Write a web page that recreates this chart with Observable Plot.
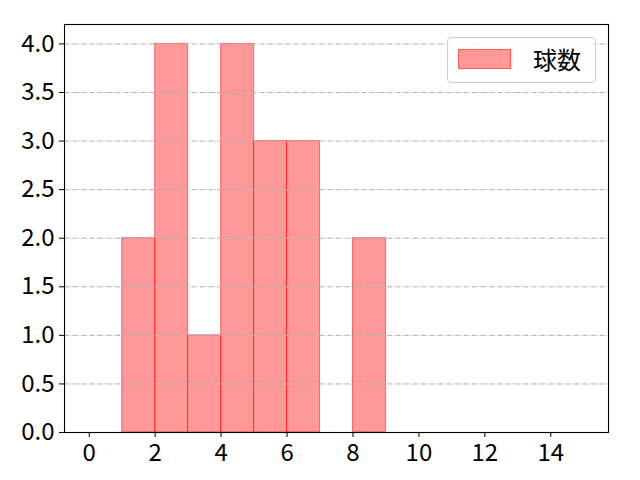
<!DOCTYPE html>
<html>
<head>
<meta charset="utf-8">
<script src="https://cdn.jsdelivr.net/npm/d3@7"></script>
<script src="https://cdn.jsdelivr.net/npm/@observablehq/plot@0.6"></script>
<style>
  html, body { margin: 0; padding: 0; background: #fff; }
  #wrap { position: relative; width: 640px; height: 480px; font-family: "Noto Sans CJK JP", sans-serif; }
  #legend { position: absolute; left: 447px; top: 37px; width: 149px; height: 46px; border: 1px solid #d0d0d0; border-radius: 4px; background: rgba(255,255,255,0.8); box-sizing: border-box; }
  #legend .sw { position: absolute; left: 10px; top: 11px; width: 53px; height: 20px; background: rgba(255,0,0,0.4); border: 1px solid rgba(255,0,0,0.4); box-sizing: border-box; }
  #legend .lb { position: absolute; left: 85px; top: 4px; font-size: 24px; line-height: 34px; color: #000; }
</style>
</head>
<body>
<div id="wrap"></div>
<script>
const binStart = [0, 1, 2, 3, 4, 5, 6, 7, 8, 9, 10, 11, 12, 13, 14];
const counts   = [0, 2, 4, 1, 4, 3, 3, 0, 2, 0, 0, 0, 0, 0, 0];
const xTicks = [0, 2, 4, 6, 8, 10, 12, 14];
const yTicks = [0, 0.5, 1, 1.5, 2, 2.5, 3, 3.5, 4];
const seriesName = "球数";

const bins = binStart.map((b, i) => ({x1: b, x2: b + 1, y: counts[i]})).filter(d => d.y > 0);

const chart = Plot.plot({
  width: 640,
  height: 480,
  marginLeft: 64,
  marginRight: 32,
  marginTop: 24,
  marginBottom: 48,
  style: {fontFamily: "'Noto Sans CJK JP', sans-serif", fontSize: "24px", color: "#000", background: "#fff"},
  x: {domain: [-0.75, 15.75]},
  y: {domain: [0, 4.2]},
  marks: [
    Plot.rectY(bins, {x1: "x1", x2: "x2", y: "y", fill: "red", fillOpacity: 0.4, stroke: "red", strokeOpacity: 0.5, strokeWidth: 1, inset: 0}),
    Plot.ruleY(yTicks.filter(d => d > 0), {stroke: "#b0b0b0", strokeWidth: 1, strokeDasharray: "5.1,1.3,0.8,1.3"}),
    Plot.frame({stroke: "#000", strokeWidth: 1.1}),
    Plot.axisX({ticks: xTicks, tickSize: 5, tickPadding: 6, tickFormat: d => String(d), fontSize: 24, label: null}),
    Plot.axisY({ticks: yTicks, tickSize: 5, tickPadding: 5, tickFormat: d => d.toFixed(1), fontSize: 24, label: null})
  ]
});
const wrap = document.getElementById("wrap");
wrap.appendChild(chart);
const lg = document.createElement("div");
lg.id = "legend";
lg.innerHTML = '<div class="sw"></div><div class="lb"></div>';
lg.querySelector(".lb").textContent = seriesName;
wrap.appendChild(lg);
</script>
</body>
</html>
